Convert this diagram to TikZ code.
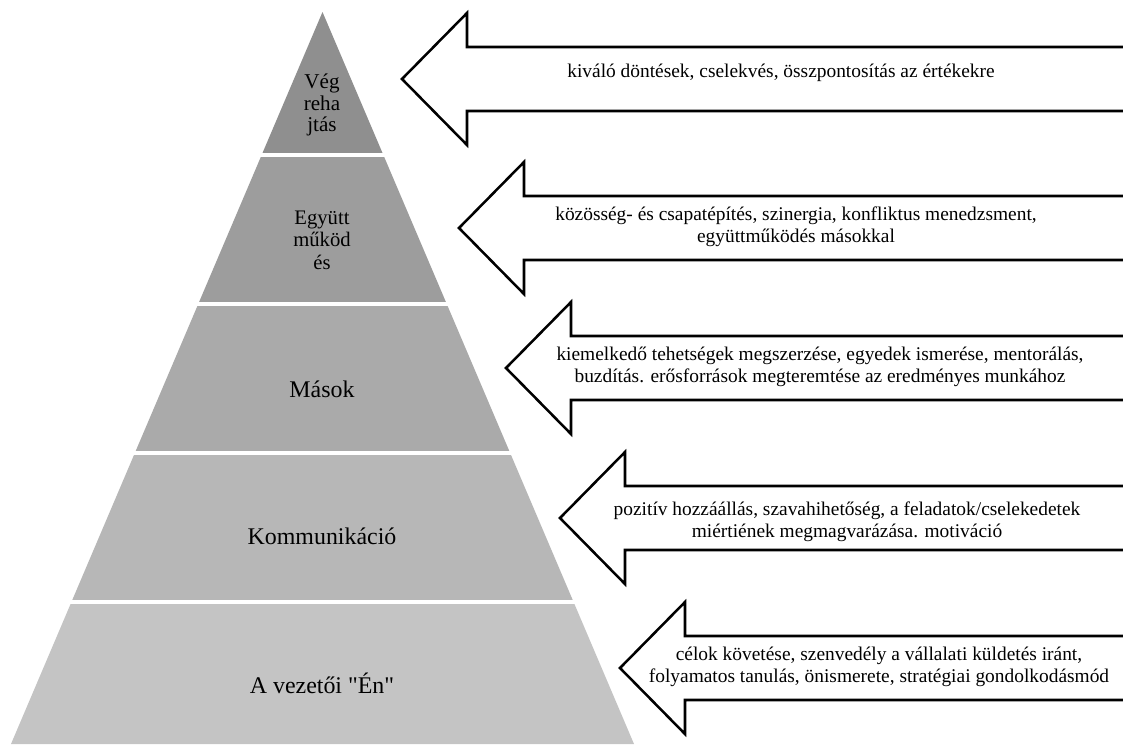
\documentclass[tikz,border=0pt]{standalone}
\usepackage{fontspec}
\setmainfont{Liberation Serif}[Ligatures=TeXOff]
\definecolor{szint1}{RGB}{143,143,143}
\definecolor{szint2}{RGB}{157,157,157}
\definecolor{szint3}{RGB}{170,170,170}
\definecolor{szint4}{RGB}{183,183,183}
\definecolor{szint5}{RGB}{196,196,196}
\tikzset{
  felirat/.style={align=center, inner sep=0pt, font=\fontsize{17}{20}\selectfont},
  kisfelirat/.style={align=center, inner sep=0pt, font=\fontsize{15}{15.5}\selectfont},
  nyilszoveg/.style={align=center, inner sep=0pt, font=\fontsize{13.8}{16}\selectfont},
  nyil/.style={draw=black, fill=white, line width=1.8pt, line join=miter}
}
% nyil: csucs x, csucs y
\newcommand{\nyil}[2]{\draw[nyil] (#1,#2) -- ({#1+65},{#2-66}) -- ({#1+65},{#2-32}) -- (1140,{#2-32})
  -- (1140,{#2+32}) -- ({#1+65},{#2+32}) -- ({#1+65},{#2+66}) -- cycle;}
\begin{document}
\begin{tikzpicture}[x=0.025cm,y=-0.025cm]
        \clip (0,0) rectangle (1123,744);
        \fill[white] (0,0) rectangle (1123,744);
        % piramis
        \begin{scope}
        \clip (322.5,12) -- (11,744) -- (634,744) -- cycle;
        \fill[szint1] (0,0) rectangle (1123,153);
        \fill[szint2] (0,157) rectangle (1123,302);
        \fill[szint3] (0,306) rectangle (1123,451);
        \fill[szint4] (0,455) rectangle (1123,600);
        \fill[szint5] (0,604) rectangle (1123,750);
        \end{scope}
        % szintek
        \node[kisfelirat] (vegrehajtas) at (322,105) {Vég\\reha\\jtás};
        \node[kisfelirat, font=\fontsize{14.7}{16}\selectfont] (egyuttmukodes) at (322,240) {Együtt\\működ\\és};
        \node[felirat] (masok) at (322,389) {Mások};
        \node[felirat] (kommunikacio) at (322,536) {Kommunikáció};
        \node[felirat] (vezetoi) at (322,683) {A vezetői "Én"};
        % nyilak
        \nyil{402}{79}
        \nyil{459}{228}
        \nyil{506}{368}
        \nyil{560}{518}
        \nyil{620}{668}
        % szovegek
        \node[nyilszoveg] (dontesek) at (781,73) {kiváló döntések, cselekvés, összpontosítás az értékekre};
        \node[nyilszoveg] (kozosseg) at (796,227) {közösség- és csapatépítés, szinergia, konfliktus menedzsment,\\együttműködés másokkal};
        \node[nyilszoveg] (tehetsegek) at (820,367) {kiemelkedő tehetségek megszerzése, egyedek ismerése, mentorálás,\\buzdítás. erősforrások megteremtése az eredményes munkához};
        \node[nyilszoveg] (hozzaallas) at (847,522) {pozitív hozzáállás, szavahihetőség, a feladatok/cselekedetek\\miértiének megmagvarázása. motiváció};
        \node[nyilszoveg] (celok) at (879,667) {célok követése, szenvedély a vállalati küldetés iránt,\\folyamatos tanulás, önismerete, stratégiai gondolkodásmód};
\end{tikzpicture}
\end{document}
